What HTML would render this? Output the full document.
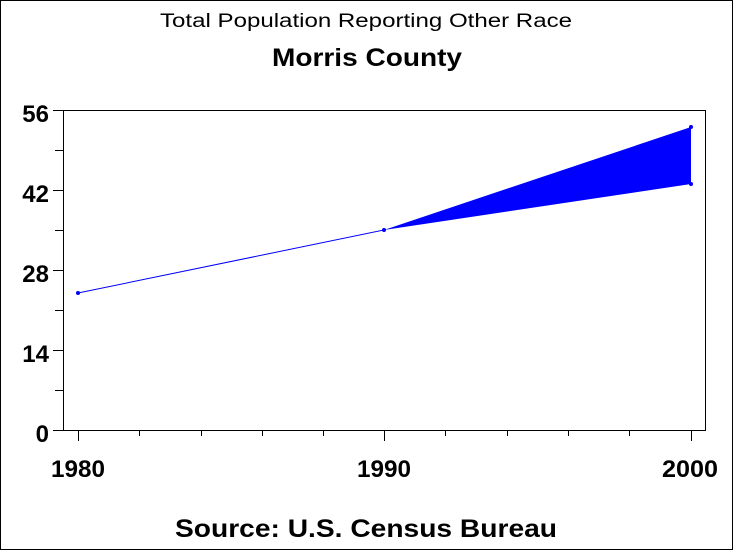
<!DOCTYPE html>
<html><head><style>
body{margin:0;background:#fff;}
svg{display:block;font-family:"Liberation Sans",Arial,sans-serif;font-weight:bold;}
</style></head><body>
<svg width="733" height="550" viewBox="0 0 733 550">
<rect x="0.5" y="0.5" width="732" height="549" fill="#fff" stroke="#000"/>
<text x="160" y="27" font-size="19" font-weight="normal" textLength="412" lengthAdjust="spacingAndGlyphs">Total Population Reporting Other Race</text>
<text x="272" y="66" font-size="25" textLength="190" lengthAdjust="spacingAndGlyphs">Morris County</text>
<rect x="63.5" y="110.5" width="642" height="320" fill="none" stroke="#000"/>
<g stroke="#000" stroke-width="1">
<line x1="53" y1="110.5" x2="63" y2="110.5"/>
<line x1="53" y1="190.5" x2="63" y2="190.5"/>
<line x1="53" y1="270.5" x2="63" y2="270.5"/>
<line x1="53" y1="350.5" x2="63" y2="350.5"/>
<line x1="53" y1="430.5" x2="63" y2="430.5"/>
<line x1="55" y1="150.5" x2="63" y2="150.5"/>
<line x1="55" y1="230.5" x2="63" y2="230.5"/>
<line x1="55" y1="310.5" x2="63" y2="310.5"/>
<line x1="55" y1="390.5" x2="63" y2="390.5"/>
<line x1="78.5" y1="430" x2="78.5" y2="441"/>
<line x1="384.5" y1="430" x2="384.5" y2="441"/>
<line x1="691.5" y1="430" x2="691.5" y2="441"/>
<line x1="139.5" y1="430" x2="139.5" y2="436"/>
<line x1="201.5" y1="430" x2="201.5" y2="436"/>
<line x1="262.5" y1="430" x2="262.5" y2="436"/>
<line x1="323.5" y1="430" x2="323.5" y2="436"/>
<line x1="445.5" y1="430" x2="445.5" y2="436"/>
<line x1="507.5" y1="430" x2="507.5" y2="436"/>
<line x1="568.5" y1="430" x2="568.5" y2="436"/>
<line x1="629.5" y1="430" x2="629.5" y2="436"/>
</g>
<g font-size="24" text-anchor="end">
<text x="49" y="122">56</text>
<text x="49" y="202">42</text>
<text x="49" y="282">28</text>
<text x="49" y="362">14</text>
<text x="49" y="442">0</text>
</g>
<g font-size="24" text-anchor="middle">
<text x="78" y="477" textLength="54" lengthAdjust="spacingAndGlyphs">1980</text>
<text x="384" y="477" textLength="54" lengthAdjust="spacingAndGlyphs">1990</text>
<text x="690" y="477" textLength="56" lengthAdjust="spacingAndGlyphs">2000</text>
</g>
<text x="175" y="537" font-size="25" textLength="382" lengthAdjust="spacingAndGlyphs">Source: U.S. Census Bureau</text>
<polyline points="78,293 384,230" fill="none" stroke="#0000ff" stroke-width="1"/>
<polygon points="384,230 691,127 691,184" fill="#0000ff"/>
<g fill="#0000ff">
<circle cx="78" cy="293" r="2"/>
<circle cx="384" cy="230" r="2"/>
<circle cx="691" cy="127" r="2"/>
<circle cx="691" cy="184" r="2"/>
</g>
</svg>
</body></html>
